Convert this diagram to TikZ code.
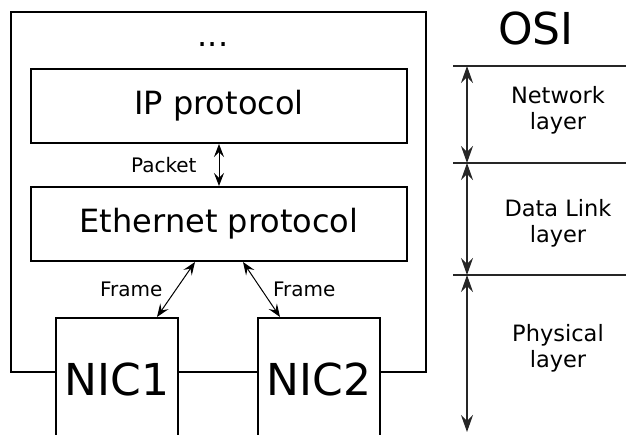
\documentclass[tikz,border=0pt]{standalone}
\usepackage{fontspec}
\setmainfont{DejaVu Sans}
\usetikzlibrary{arrows.meta}

\tikzset{
  box/.style={draw, line width=2pt, fill=white, inner sep=0pt},
  dbl/.style={{Stealth[length=13pt,width=10pt,inset=5pt]}-{Stealth[length=13pt,width=10pt,inset=5pt]}, line width=1pt},
  osiarrow/.style={{Stealth[length=17pt,width=12pt,inset=6pt]}-{Stealth[length=17pt,width=12pt,inset=6pt]}, line width=1.2pt, black!85},
  lbl/.style={inner sep=0pt, font=\fontsize{20}{24}\selectfont},
  big/.style={font=\fontsize{32}{38}\selectfont},
  nictext/.style={font=\fontsize{44}{50}\selectfont},
  side/.style={inner sep=0pt, align=center, font=\fontsize{22.5}{26}\selectfont}
}

\begin{document}
\begin{tikzpicture}[x=1pt,y=-1pt]
  \useasboundingbox (0,0) rectangle (626,435);
  \clip (0,0) rectangle (626,435);

  % the host
  \node[box, fill=none, minimum width=415pt, minimum height=360pt] (host) at (218.5,192) {};
  \node[big, anchor=base] (dots) at (213,47) {...};
  \node[box, big, minimum width=376pt, minimum height=74pt] (ip) at (219,106) {IP protocol};
  \node[box, big, minimum width=376pt, minimum height=74pt] (eth) at (219,224) {Ethernet protocol};
  \node[box, nictext, minimum width=122pt, minimum height=122pt] (nic1) at (117,379) {NIC1};
  \node[box, nictext, minimum width=122pt, minimum height=122pt] (nic2) at (319,379) {NIC2};

  \draw[dbl] (ip) -- node[lbl, left=22pt] {Packet} (eth);
  \draw[dbl] ([xshift=-24pt]eth.south) -- node[lbl, left=13pt] {Frame} ([xshift=40pt]nic1.north);
  \draw[dbl] ([xshift=24pt]eth.south) -- node[lbl, right=11pt] {Frame} ([xshift=-39pt]nic2.north);

  % OSI layers
  \node[font=\fontsize{44}{50}\selectfont, anchor=base] (osi) at (536,45) {OSI};
  \foreach \y/\n in {66/top,163/mid,275/low}{
    \coordinate (\n) at (467,\y);
    \draw[line width=1.2pt, black!85] ([xshift=-14pt]\n) -- ++(173,0);
  }
  \coordinate (end) at (467,432);
  \draw[osiarrow] (top) -- (mid);
  \draw[osiarrow] (mid) -- (low);
  \draw[osiarrow] (low) -- (end);
  \node[side] (net) at (558,110) {Network\\layer};
  \node[side] (link) at (558,223) {Data Link\\layer};
  \node[side] (phys) at (558,348) {Physical\\layer};
\end{tikzpicture}
\end{document}
